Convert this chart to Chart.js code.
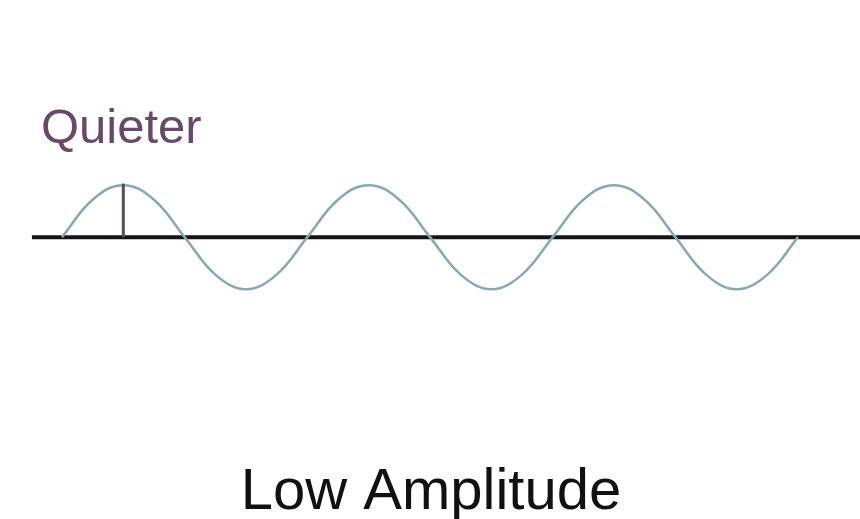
<!DOCTYPE html>
<html>
<head>
<meta charset="utf-8">
<script src="https://cdn.jsdelivr.net/npm/chart.js@4"></script>
<style>
  html, body { margin: 0; padding: 0; background: #fff; }
  #wrap { width: 860px; height: 519px; }
</style>
</head>
<body>
<div id="wrap"><canvas id="onda"></canvas></div>
<script>
// DATOS
// wave sampled every 1/8 of a cycle, 3 cycles
const tiempo = [0, 1, 2, 3, 4, 5, 6, 7, 8, 9, 10, 11, 12, 13, 14, 15, 16, 17, 18, 19, 20, 21, 22, 23, 24];
const amplitud = [0, 0.72, 1, 0.72, 0, -0.72, -1, -0.72, 0, 0.72, 1, 0.72, 0, -0.72, -1, -0.72, 0, 0.72, 1, 0.72, 0, -0.72, -1, -0.72, 0];
const ejeX = [-0.98, 26.1];
const ejeY = [0, 0];
const marcaX = [2, 2];
const marcaY = [0, 1.03];
const etiquetaArriba = "Quieter";
const etiquetaAbajo = "Low Amplitude";
// DATOS END

function puntos(xs, ys) {
  return xs.map((x, i) => ({ x: x, y: ys[i] }));
}

const textos = {
  id: "textos",
  afterDraw(chart) {
    const ctx = chart.ctx;
    ctx.save();
    ctx.textBaseline = "alphabetic";
    ctx.textAlign = "left";
    ctx.fillStyle = "#674a67";
    ctx.font = "49px 'Liberation Sans', Arial, sans-serif";
    ctx.fillText(etiquetaArriba, 41, 143);
    ctx.fillStyle = "#111";
    ctx.font = "58px 'Liberation Sans', Arial, sans-serif";
    ctx.textAlign = "center";
    ctx.fillText(etiquetaAbajo, 431, 509);
    ctx.restore();
  }
};

const config = {
  type: "line",
  data: {
    datasets: [
      {
        label: "eje",
        data: puntos(ejeX, ejeY),
        borderColor: "#141414",
        borderWidth: 4,
        pointRadius: 0,
        order: 2
      },
      {
        label: "onda",
        data: puntos(tiempo, amplitud),
        borderColor: "#88a9b1",
        borderWidth: 2.5,
        pointRadius: 0,
        tension: 0.4,
        order: 1
      },
      {
        label: "marca",
        data: puntos(marcaX, marcaY),
        borderColor: "#5d4a5b",
        borderWidth: 3,
        pointRadius: 0,
        order: 0
      }
    ]
  },
  options: {
    responsive: true,
    maintainAspectRatio: false,
    animation: false,
    layout: { padding: 0 },
    plugins: {
      legend: { display: false },
      tooltip: { enabled: false }
    },
    scales: {
      x: { type: "linear", min: -2.02, max: 26.02, display: false },
      y: { min: -5.42, max: 4.56, display: false }
    }
  },
  plugins: [textos]
};
new Chart(document.getElementById("onda"), config);
</script>
</body>
</html>
